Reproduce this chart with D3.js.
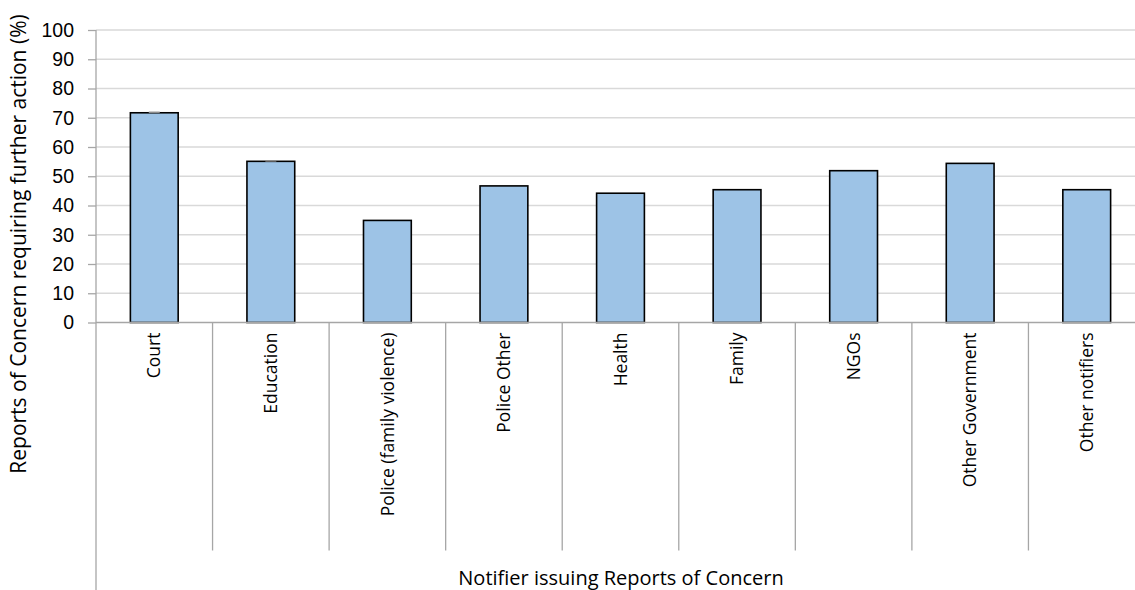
<!DOCTYPE html>
<html>
<head>
<meta charset="utf-8">
<script src="https://cdn.jsdelivr.net/npm/d3@7"></script>
<style>
  body { margin: 0; background: #fff; }
  svg { display: block; font-family: "Open Sans", "Noto Sans", sans-serif; }
</style>
</head>
<body>
<svg id="chart" width="1135" height="590"></svg>
<script>
var categories = ["Court", "Education", "Police (family violence)", "Police Other", "Health",
    "Family", "NGOs", "Other Government", "Other notifiers"];
var values = [71.7, 55.1, 34.9, 46.7, 44.2, 45.4, 51.9, 54.4, 45.4];
// tiny grey error caps only show on the first two bars
var errorCaps = [0.15, 0.15, 0, 0, 0, 0, 0, 0, 0];
var yTicks = [0, 10, 20, 30, 40, 50, 60, 70, 80, 90, 100];

var margin = { top: 30, left: 96, bottom: 267.5 },
    width = 1049,           // plot runs past the right edge of the picture
    height = 590 - margin.top - margin.bottom;

var svg = d3.select("#chart");
var g = svg.append("g")
    .attr("transform", "translate(" + margin.left + "," + margin.top + ")");

var x = d3.scaleBand().domain(categories).range([0, width]).paddingInner(0).paddingOuter(0);
var y = d3.scaleLinear().domain([0, 100]).range([height, 0]);
var barW = x.bandwidth() * 0.41;

// gridlines
g.selectAll(".grid")
    .data(yTicks.slice(1))
    .enter().append("line")
    .attr("x1", 0).attr("x2", width)
    .attr("y1", d => y(d)).attr("y2", d => y(d))
    .style("stroke", "#d9d9d9")
    .style("stroke-width", 1.5);

// y axis
var yAxis = g.append("g")
    .call(d3.axisLeft(y).tickValues(yTicks).tickSize(8).tickPadding(14));
yAxis.select(".domain").remove();
yAxis.selectAll(".tick line").style("stroke", "#a6a6a6").style("stroke-width", 1.3);
yAxis.selectAll(".tick text").style("font-size", "19.5px").style("fill", "#000");

// left axis line running down past category area
g.append("line")
    .attr("x1", 0).attr("x2", 0)
    .attr("y1", 0).attr("y2", 590 - margin.top)
    .style("stroke", "#a6a6a6").style("stroke-width", 1.3);

// bars
g.selectAll(".bar")
    .data(values)
    .enter().append("rect")
    .attr("class", "bar")
    .attr("x", (d, i) => x(categories[i]) + (x.bandwidth() - barW) / 2)
    .attr("y", d => y(d))
    .attr("width", barW)
    .attr("height", d => height - y(d))
    .style("fill", "#9dc3e6")
    .style("stroke", "#000")
    .style("stroke-width", 1.6);

// error caps
g.selectAll(".err")
    .data(values.map((v, i) => ({ v: v, e: errorCaps[i], c: categories[i] })).filter(d => d.e > 0))
    .enter().append("line")
    .attr("x1", d => x(d.c) + x.bandwidth() / 2 - 5.5)
    .attr("x2", d => x(d.c) + x.bandwidth() / 2 + 5.5)
    .attr("y1", d => y(d.v + d.e)).attr("y2", d => y(d.v + d.e))
    .style("stroke", "#8c8c8c")
    .style("stroke-width", 1.5);

// x axis line
g.append("line")
    .attr("x1", 0).attr("x2", width)
    .attr("y1", height).attr("y2", height)
    .style("stroke", "#a6a6a6").style("stroke-width", 1.3);

// category separators
g.selectAll(".sep")
    .data(categories.slice(1))
    .enter().append("line")
    .attr("x1", d => x(d)).attr("x2", d => x(d))
    .attr("y1", height).attr("y2", height + 228)
    .style("stroke", "#a6a6a6").style("stroke-width", 1.3);

// category labels
g.selectAll(".cat")
    .data(categories)
    .enter().append("text")
    .attr("transform", d => "translate(" + (x(d) + x.bandwidth() / 2) + "," + (height + 10) + ") rotate(-90)")
    .attr("dy", "0.35em")
    .attr("text-anchor", "end")
    .style("font-size", "17.5px")
    .text(d => d);

// axis titles
svg.append("text")
    .attr("x", 621).attr("y", 585)
    .attr("text-anchor", "middle")
    .style("font-size", "20px")
    .text("Notifier issuing Reports of Concern");

svg.append("text")
    .attr("transform", "translate(26,244) rotate(-90)")
    .attr("text-anchor", "middle")
    .style("font-size", "21px")
    .text("Reports of Concern requiring further action (%)");
</script>
</body>
</html>
